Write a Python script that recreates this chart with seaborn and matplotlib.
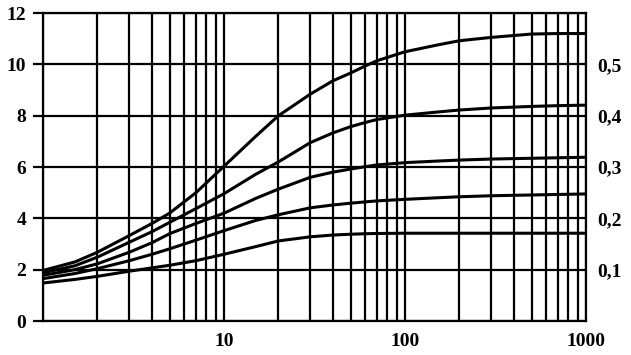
import numpy as np
import pandas as pd

import matplotlib
matplotlib.use('Agg')

import matplotlib.pyplot as plt
from matplotlib.ticker import LogLocator, NullFormatter

import seaborn as sns

# x values (log axis) and five curves, labelled on the right 0,1 ... 0,5
x_vals = [1, 1.5, 2, 3, 4, 5, 7, 10, 15, 20, 30, 40, 50, 60, 70, 100, 150, 200, 300, 500, 700, 1000]
curve_05 = [1.97, 2.3, 2.68, 3.33, 3.8, 4.2, 5.0, 6.03, 7.2, 8.0, 8.84, 9.36, 9.66, 9.93, 10.14, 10.49, 10.75, 10.92, 11.05, 11.18, 11.2, 11.2]
curve_04 = [1.88, 2.15, 2.49, 3.07, 3.48, 3.84, 4.38, 4.96, 5.72, 6.2, 6.95, 7.33, 7.57, 7.73, 7.85, 8.02, 8.14, 8.22, 8.3, 8.36, 8.39, 8.41]
curve_03 = [1.78, 2.0, 2.23, 2.68, 3.05, 3.4, 3.8, 4.2, 4.78, 5.14, 5.6, 5.8, 5.92, 6.01, 6.08, 6.17, 6.23, 6.27, 6.31, 6.34, 6.36, 6.38]
curve_02 = [1.65, 1.85, 2.04, 2.35, 2.6, 2.81, 3.15, 3.52, 3.92, 4.14, 4.41, 4.52, 4.59, 4.64, 4.68, 4.74, 4.8, 4.84, 4.88, 4.91, 4.93, 4.95]
curve_01 = [1.48, 1.62, 1.74, 1.94, 2.07, 2.17, 2.35, 2.6, 2.9, 3.12, 3.28, 3.35, 3.38, 3.4, 3.41, 3.42, 3.42, 3.42, 3.42, 3.42, 3.42, 3.42]

y_ticks = [0, 2, 4, 6, 8, 10, 12]
x_ticks = [1, 10, 100, 1000]
x_ticklabels = ["", "10", "100", "1000"]
right_ticks = [0.1, 0.2, 0.3, 0.4, 0.5]
right_labels = ["0,1", "0,2", "0,3", "0,4", "0,5"]


def main():
    sns.set_style('white')
    plt.rcParams['font.family'] = ['Liberation Serif', 'DejaVu Serif']
    plt.rcParams['font.weight'] = 'bold'

    curves = {"0,5": curve_05, "0,4": curve_04, "0,3": curve_03, "0,2": curve_02, "0,1": curve_01}
    df = pd.concat([pd.DataFrame({"x": x_vals, "y": v, "curve": k}) for k, v in curves.items()],
                   ignore_index = True)

    fig = plt.figure(figsize = (6.31, 3.55), dpi = 100)
    ax = fig.add_axes([43 / 631, 34 / 355, 543 / 631, 308 / 355])

    sns.lineplot(data = df, x = "x", y = "y", hue = "curve", palette = ["black"] * 5,
                 linewidth = 2.2, legend = False, ax = ax, zorder = 3)

    ax.set_xscale('log')
    ax.set_xlim(1, 1000)
    ax.set_ylim(0, 12)
    ax.set_xticks(x_ticks)
    ax.set_xticklabels(x_ticklabels)
    ax.xaxis.set_minor_locator(LogLocator(base = 10, subs = np.arange(2, 10)))
    ax.xaxis.set_minor_formatter(NullFormatter())
    ax.set_yticks(y_ticks)
    ax.set_yticklabels([str(t) for t in y_ticks])
    ax.set_xlabel("")
    ax.set_ylabel("")

    ax.grid(True, which = 'both', axis = 'x', color = 'black', linewidth = 1.6)
    ax.grid(True, which = 'major', axis = 'y', color = 'black', linewidth = 1.6)
    ax.tick_params(which = 'major', direction = 'out', length = 7, width = 1.6,
                   color = 'black', labelsize = 14, pad = 5, labelcolor = 'black')
    ax.tick_params(axis = 'x', which = 'major', pad = 2)
    ax.tick_params(which = 'minor', length = 0)
    for sp in ax.spines.values():
        sp.set_color('black')
        sp.set_linewidth(1.6)

    ax2 = ax.twinx()
    ax2.set_ylim(0, 0.6)
    ax2.set_yticks(right_ticks)
    ax2.set_yticklabels(right_labels)
    ax2.tick_params(axis = 'y', length = 0, labelsize = 14, pad = 8, labelcolor = 'black')
    for sp in ax2.spines.values():
        sp.set_visible(False)

    plt.savefig("out.png", dpi = 100)
    plt.close()


if __name__ == '__main__':
    main()
